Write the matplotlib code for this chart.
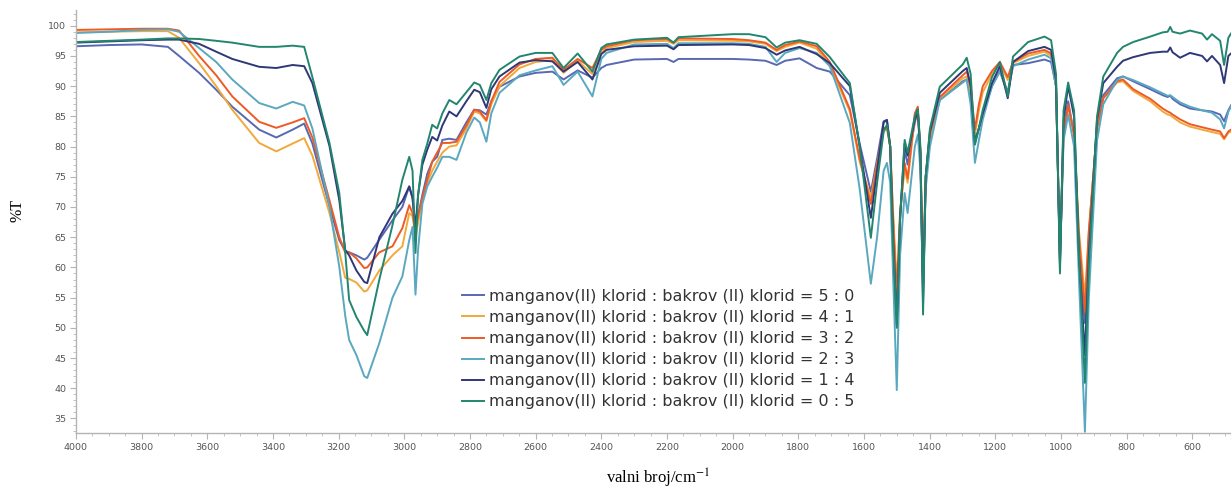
import matplotlib
matplotlib.use("Agg")
import matplotlib.pyplot as plt
from matplotlib.ticker import MultipleLocator

plt.rcParams["mathtext.fontset"] = "stix"

# shared wavenumber grid (cm-1) and %T for each sample
WAVENUMBER = [
    4000, 3900, 3800, 3720, 3686, 3625, 3573, 3524, 3442, 3390,
    3340, 3305, 3280, 3228, 3198, 3180, 3168, 3146, 3122, 3113,
    3076, 3036, 3006, 2985, 2975, 2966, 2958, 2945, 2930, 2915,
    2900, 2884, 2863, 2841, 2811, 2787, 2770, 2750, 2735, 2710,
    2649, 2600, 2549, 2515, 2472, 2427, 2400, 2384, 2300, 2200,
    2180, 2165, 2000, 1950, 1900, 1866, 1840, 1796, 1744, 1704,
    1643, 1613, 1579, 1560, 1540, 1530, 1520, 1512, 1500, 1490,
    1476, 1467, 1445, 1436, 1428, 1420, 1412, 1399, 1369, 1299,
    1287, 1275, 1262, 1250, 1238, 1210, 1186, 1162, 1146, 1100,
    1050, 1030, 1015, 1003, 992, 978, 960, 945, 927, 915,
    890, 871, 829, 811, 780, 728, 690, 675, 667, 660,
    637, 607, 570, 555, 540, 515, 503, 490, 482,
]

T_50 = [
    96.6, 96.8, 96.9, 96.5, 95.0, 92.2, 89.4, 86.6, 82.8, 81.5,
    82.8, 83.8, 80.5, 70.1, 64.5, 62.7, 62.5, 62.0, 61.3, 61.6,
    64.6, 67.8, 70.0, 73.4, 71.5, 66.0, 68.5, 72.0, 75.5, 77.5,
    78.3, 81.1, 81.3, 81.1, 84.0, 86.1, 86.0, 85.3, 87.5, 89.9,
    91.6, 92.2, 92.4, 91.1, 92.6, 91.4, 93.0, 93.5, 94.4, 94.5,
    94.0, 94.5, 94.5, 94.4, 94.2, 93.5, 94.2, 94.6, 93.0, 92.4,
    88.5, 80.5, 72.5, 78.0, 84.2, 84.4, 80.0, 68.0, 52.0, 68.0,
    79.5, 77.0, 84.0, 85.8, 78.0, 56.0, 74.0, 81.5, 87.7, 90.8,
    91.1, 89.0, 81.0, 83.0, 85.5, 90.0, 92.5, 89.0, 93.5, 93.8,
    94.4, 94.0, 90.0, 61.0, 83.0, 87.5, 82.0, 63.0, 50.8, 65.0,
    83.5, 88.5, 91.3, 91.6, 90.8, 89.5, 88.5, 88.2, 88.4, 87.9,
    87.0, 86.3, 86.0, 85.9, 85.8, 85.3, 84.2, 86.0, 86.8,
]

T_41 = [
    98.9, 99.0, 99.1, 99.1, 98.0, 93.8, 90.0, 86.1, 80.6, 79.2,
    80.5, 81.4, 78.5, 69.0, 62.5, 58.3, 58.1, 57.5, 56.0, 56.2,
    59.5, 62.0, 63.5, 69.0, 68.5, 65.0, 67.5, 71.0, 74.0, 76.0,
    77.5, 79.0, 80.0, 80.2, 83.0, 85.8, 85.5, 84.2, 87.0, 90.0,
    93.0, 94.0, 94.3, 92.2, 94.2, 92.0, 95.5, 96.3, 97.3, 97.5,
    97.0, 97.6, 97.5, 97.4, 97.0, 95.8, 96.5, 97.2, 96.2, 93.5,
    85.8, 77.5, 71.5, 77.0, 82.5, 83.0, 80.0, 70.0, 57.0, 69.0,
    76.5, 74.0, 85.0, 86.3, 79.0, 58.0, 75.0, 81.5, 88.0, 91.3,
    91.6, 89.0, 82.0, 86.0, 89.0, 92.0, 93.8, 91.0, 93.8, 95.0,
    95.7, 95.0, 90.0, 62.0, 82.0, 86.6, 82.0, 66.0, 55.0, 66.0,
    83.0, 88.0, 90.6, 90.8, 89.2, 87.5, 85.8, 85.3, 85.2, 84.9,
    84.0, 83.3, 82.8, 82.6, 82.4, 82.1, 81.2, 82.3, 82.5,
]

T_32 = [
    99.3, 99.4, 99.5, 99.5, 99.2, 95.0, 91.8, 88.3, 84.1, 83.1,
    84.0, 84.7, 81.5, 71.1, 65.0, 62.5, 62.5, 61.5, 59.9, 60.0,
    62.5, 63.5, 66.5, 70.3, 69.0, 66.0, 68.5, 71.5, 74.5, 77.5,
    79.0, 80.6, 80.6, 80.8, 83.5, 86.1, 85.8, 84.4, 87.5, 90.7,
    93.6, 94.5, 94.7, 92.7, 94.5, 93.0, 96.0, 96.6, 97.6, 97.8,
    97.2, 97.9, 97.8, 97.6, 97.2, 96.0, 96.8, 97.4, 96.6, 94.0,
    86.2, 78.0, 70.5, 77.0, 83.0, 83.3, 80.0, 69.0, 55.0, 69.0,
    77.3, 74.7, 85.5, 86.6, 79.0, 58.0, 75.0, 82.0, 88.2, 91.8,
    92.4, 90.0, 82.8, 87.0, 90.0, 92.5, 94.0, 91.5, 94.0, 95.4,
    96.0, 95.4, 90.0, 62.0, 82.0, 86.9, 82.0, 65.0, 52.6, 66.0,
    83.0, 88.0, 90.8, 91.1, 89.5, 87.9, 86.3, 85.8, 85.6, 85.3,
    84.5, 83.7, 83.2, 83.0, 82.8, 82.5, 81.4, 82.5, 82.8,
]

T_23 = [
    98.8, 99.0, 99.3, 99.4, 99.0, 96.3, 94.0, 91.1, 87.2, 86.3,
    87.4, 86.8, 83.0, 70.1, 60.1, 52.0, 48.0, 45.5, 42.0, 41.7,
    47.5, 55.0, 58.5, 64.5, 66.7, 55.5, 63.0, 70.5, 73.4, 75.0,
    76.5, 78.3, 78.3, 77.8, 82.3, 84.8, 84.0, 80.8, 85.5, 88.9,
    91.8, 92.6, 93.3, 90.2, 92.4, 88.3, 94.5, 95.5, 96.9, 97.0,
    96.3, 97.1, 97.1, 97.0, 96.5, 94.0, 95.5, 96.3, 95.5, 93.3,
    83.9, 73.0, 57.3, 65.0, 76.0, 77.3, 74.0, 60.0, 39.7, 62.0,
    72.3, 69.0, 80.0, 82.0, 76.0, 56.0, 73.0, 80.0, 87.7, 90.6,
    91.1, 87.0, 77.3, 81.0, 84.5, 90.0, 92.4, 88.8, 93.3, 94.4,
    95.2, 94.6, 90.0, 61.0, 81.0, 85.3, 80.0, 58.0, 32.8, 55.0,
    81.0, 87.0, 91.0, 91.6, 91.0, 89.8, 88.8, 88.4, 88.5, 88.2,
    87.3, 86.6, 86.0, 85.8, 85.6, 84.5, 83.0, 85.8, 86.6,
]

T_14 = [
    97.2, 97.4, 97.6, 97.7, 97.7, 97.0, 95.7, 94.5, 93.2, 93.0,
    93.5, 93.3, 90.5, 80.1, 71.1, 62.9, 62.0, 59.5, 57.6, 57.4,
    65.0, 68.9, 71.0, 73.4, 71.5, 66.7, 72.0, 77.0, 79.5, 81.6,
    81.0, 83.5, 85.8, 85.0, 87.5, 89.4, 89.0, 86.4, 89.5, 91.6,
    93.9, 94.3, 94.1, 92.4, 94.0, 91.1, 95.3, 96.0, 96.6, 96.7,
    96.1, 96.8, 96.9, 96.8, 96.3, 95.2, 95.9, 96.5, 95.3, 93.8,
    90.0, 80.0, 68.2, 76.0, 84.0, 84.4, 80.0, 66.0, 50.5, 68.0,
    80.5, 78.5, 84.5, 86.0, 79.0, 54.0, 75.0, 82.5, 88.9, 92.5,
    93.0, 90.0, 80.6, 83.0, 85.5, 90.5, 93.3, 88.0, 94.0, 95.8,
    96.5, 96.0, 91.0, 60.0, 84.5, 90.0, 85.0, 62.0, 45.5, 62.0,
    84.5, 90.5, 93.2, 94.2, 94.8, 95.5, 95.7, 95.7, 96.4, 95.6,
    94.7, 95.5, 95.0, 94.1, 95.0, 93.5, 90.5, 95.0, 95.4,
]

T_05 = [
    97.3, 97.5, 97.7, 97.9, 97.9, 97.8, 97.5, 97.2, 96.5, 96.5,
    96.7, 96.5, 91.5, 80.6, 72.3, 62.5, 54.6, 51.8, 49.5, 48.8,
    58.0, 67.0, 74.5, 78.3, 76.0, 62.4, 72.0, 77.8, 80.5, 83.6,
    83.0, 85.5, 87.7, 87.0, 89.0, 90.6, 90.2, 87.7, 90.5, 92.7,
    94.9, 95.5, 95.5, 93.0, 95.4, 92.4, 96.3, 96.9, 97.7, 98.0,
    97.2, 98.1, 98.6, 98.6, 98.1, 96.4, 97.2, 97.6, 97.0, 94.8,
    90.5, 80.0, 64.9, 74.0, 82.5, 83.6, 80.0, 65.0, 50.0, 68.0,
    81.1, 79.0, 85.0, 86.2, 80.0, 52.2, 75.0, 83.0, 89.9, 93.6,
    94.7, 92.0, 80.3, 83.0, 86.1, 91.5, 94.0, 88.3, 94.9, 97.3,
    98.2, 97.6, 92.0, 59.0, 86.0, 90.6, 86.0, 62.0, 40.9, 60.0,
    85.0, 91.6, 95.5, 96.5, 97.3, 98.2, 98.9, 99.0, 99.8, 99.0,
    98.7, 99.2, 98.7, 97.7, 98.6, 97.5, 93.5, 98.0, 98.7,
]

RATIOS = ["5 : 0", "4 : 1", "3 : 2", "2 : 3", "1 : 4", "0 : 5"]
SERIES = [T_50, T_41, T_32, T_23, T_14, T_05]
COLORS = ["#5868b2", "#f2a83a", "#ee5a26", "#5aa8c0", "#2f3877", "#22866f"]

W, H = 1231, 488
fig = plt.figure(figsize=(W / 100, H / 100), dpi=100)
ax = fig.add_axes([76 / W, (H - 433) / H, (W - 76) / W, 423 / H])

for t, c, r in zip(SERIES, COLORS, RATIOS):
    ax.plot(WAVENUMBER, t, color=c, lw=1.4,
            label=f"manganov(II) klorid : bakrov (II) klorid = {r}")

ax.set_xlim(4000, 482)
ax.set_ylim(32.6, 102.6)
ax.xaxis.set_major_locator(MultipleLocator(200))
ax.xaxis.set_minor_locator(MultipleLocator(50))
ax.yaxis.set_minor_locator(MultipleLocator(1))
ax.set_yticks(range(35, 101, 5))

for s in ["top", "right"]:
    ax.spines[s].set_visible(False)
for s in ["left", "bottom"]:
    ax.spines[s].set_color("#b4b4b4")
    ax.spines[s].set_linewidth(1.0)
ax.tick_params(which="major", length=4, width=0.8, color="#b4b4b4",
               labelsize=6.8, labelcolor="#555555", pad=3)
ax.tick_params(which="minor", length=2.5, width=0.7, color="#c4c4c4")

ax.legend(loc="upper left", bbox_to_anchor=(462 / W, 1 - 289 / H),
          bbox_transform=fig.transFigure, frameon=False, fontsize=11.5,
          handlelength=1.35, handletextpad=0.32, labelspacing=0.38,
          borderpad=0, borderaxespad=0, labelcolor="#333333")

fig.text(17 / W, 1 - 210 / H, "%T", rotation=90, ha="center", va="center",
         family="Liberation Serif", fontsize=11.5)
fig.text(658 / W, 4 / H, "valni broj/cm$^{-1}$", ha="center", va="baseline",
         family="Liberation Serif", fontsize=12)

fig.savefig("out.png", dpi=100)
